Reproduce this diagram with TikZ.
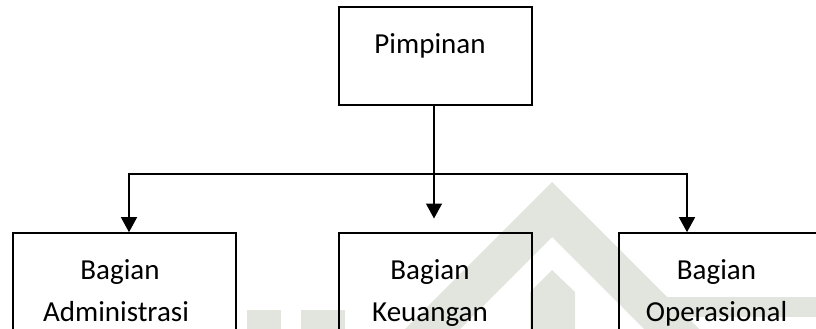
\documentclass[tikz,border=0pt]{standalone}
\usepackage{fontspec}
\setmainfont{Carlito}
\usetikzlibrary{arrows.meta}
\definecolor{wm}{RGB}{226,228,222}
\begin{document}
\begin{tikzpicture}[x=1pt,y=-1pt,
  box/.style={draw=black,line width=1.6pt,rectangle,inner sep=0pt},
  lbl/.style={font=\fontsize{29}{42}\selectfont,anchor=base,inner sep=0pt},
  link/.style={line width=1.4pt},
  arr/.style={line width=1.4pt,-{Triangle[width=16pt,length=15pt]}}]
\useasboundingbox (0,0) rectangle (816,329);
\clip (0,0) rectangle (816,329);
% faint logo in the background
\fill[wm,even odd rule] (405,329) -- (552,182) -- (699,329) -- (644,329) -- (552,237) -- (460,329) -- cycle;
\fill[wm] (530,329) -- (530,292) -- (552,270) -- (575,292) -- (575,329) -- cycle;
\fill[wm] (247,310) rectangle (281,329);
\fill[wm] (301,310) rectangle (345,329);
\fill[wm] (643,297) rectangle (816,317);
% boxes
\node[box,minimum width=193pt,minimum height=98pt] (lead) at (435.5,56) {};
\node[box,minimum width=223pt,minimum height=112pt] (admin) at (124.5,289) {};
\node[box,minimum width=193pt,minimum height=112pt] (keu) at (435.5,289) {};
\node[box,minimum width=211pt,minimum height=112pt] (ops) at (724.5,289) {};
% labels
\node[lbl] (leadA) at (430,53) {Pimpinan};
\node[lbl] (adminA) at (120,279) {Bagian};
\node[lbl] (adminB) at (116,321) {Administrasi};
\node[lbl] (keuA) at (430,279) {Bagian};
\node[lbl] (keuB) at (430,321) {Keuangan};
\node[lbl] (opsA) at (716.5,279) {Bagian};
\node[lbl] (opsB) at (716.5,321) {Operasional};
% connectors
\coordinate (j) at (434,174);
\coordinate (midtip) at (434,218.5);
\draw[link] ([xshift=-1.5pt]lead.south) -- (j);
\draw[arr] (j) -- (midtip);
\draw[arr] (j) -| ([xshift=4.5pt]admin.north);
\draw[arr] (j) -| ([xshift=-37.5pt]ops.north);
\end{tikzpicture}
\end{document}
